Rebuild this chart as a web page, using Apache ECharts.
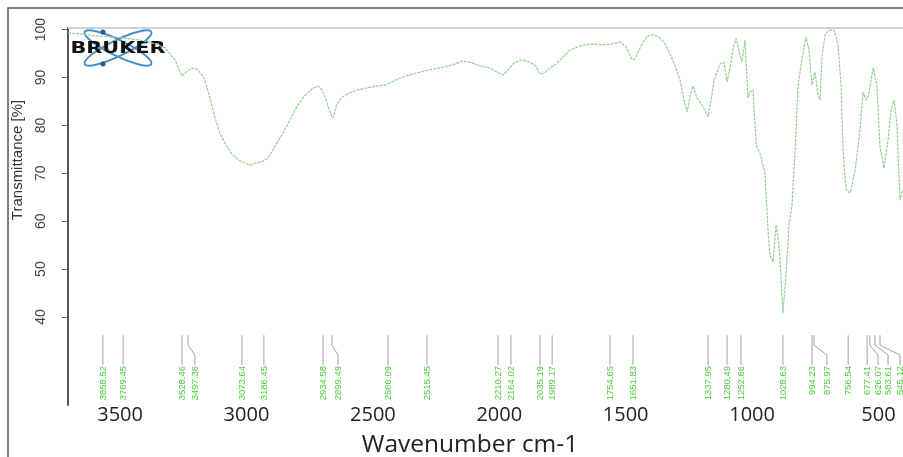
<!DOCTYPE html>
<html><head><meta charset="utf-8">
<script src="https://cdn.jsdelivr.net/npm/echarts@6/dist/echarts.min.js"></script>
<style>html,body{margin:0;padding:0;background:#fff}#c{width:903px;height:457px}</style>
</head><body><div id="c"></div>
<script>
// Spectrum (wavenumber cm-1, transmittance %)
const wavenumbers = [3706,3659,3599,3540,3480,3421,3374,3322,3283,3255,
3239,3215,3192,3168,3144,3124,3105,3081,3057,3033,
3010,2986,2962,2939,2915,2891,2867,2836,2804,2772,
2741,2717,2701,2685,2670,2658,2642,2622,2590,2559,
2527,2488,2452,2424,2393,2345,2294,2234,2187,2147,
2116,2076,2037,2009,1985,1965,1942,1910,1878,1855,
1839,1819,1799,1775,1748,1720,1680,1633,1590,1554,
1522,1499,1479,1467,1451,1431,1412,1388,1364,1344,
1324,1305,1285,1269,1257,1245,1234,1218,1198,1174,
1162,1150,1127,1111,1099,1087,1075,1063,1048,1040,
1028,1016,1008,996,984,969,949,937,929,917,
905,897,889,878,866,854,842,830,818,802,
787,775,763,751,739,731,723,711,696,676,
660,648,640,628,612,593,573,561,549,541,
521,506,494,478,462,450,438,427,415,403];
const transmittance = [99.3,99.1,98.7,98.5,98.2,97.8,97.2,96.2,93.7,90.3,
91.1,92.0,91.6,89.9,85.7,81.5,78.4,75.9,74.0,72.8,
72.2,71.7,72.2,72.4,73.2,75.3,77.4,80.3,83.6,86.1,
87.6,88.2,87.4,85.3,82.8,81.5,84.5,85.9,86.8,87.4,
87.8,88.2,88.4,89.1,89.9,90.7,91.4,92.0,92.6,93.4,
93.2,92.4,92.0,91.1,90.5,91.6,93.0,93.7,93.2,92.4,
90.7,91.1,92.0,92.8,94.3,95.7,96.6,97.0,96.8,97.0,
97.4,96.4,94.1,93.7,95.3,97.4,98.7,98.9,98.2,97.0,
94.9,92.4,89.5,85.3,82.8,86.1,88.2,85.7,84.3,81.8,
85.3,89.5,92.8,93.2,89.1,92.0,96.2,98.2,94.6,93.2,
97.8,85.7,87.0,87.4,75.9,74.2,70.1,58.2,52.9,51.5,
59.2,56.5,51.5,40.8,48.8,59.2,63.4,74.9,88.4,94.1,
98.5,95.7,88.4,91.1,86.3,85.3,94.7,98.9,99.9,99.9,
96.8,88.4,74.9,66.5,65.9,70.3,79.0,87.0,85.3,85.9,
92.0,88.0,75.5,71.1,77.0,83.2,85.3,80.1,64.4,66.5];

const xTicks = [3500,3000,2500,2000,1500,1000,500];
const yTicks = [40,50,60,70,80,90,100];

// Peak annotations: text, x where the marker line starts, x where the label sits
const peakLabels = ["3858.52","3769.45","3528.46","3497.36","3073.64","3186.45","2934.58","2899.49","2566.09","2515.45","2210.27","2164.02","2035.19","1989.17","1754.65","1651.83","1337.95","1280.49","1252.66","1028.63","994.23","875.97","756.54","677.41","626.07","583.61","545.12"];
const peakTop    = [3568,3488,3255,3231,3018,2931,2697,2662,2440,2286,2005,1954,1839,1791,1562,1471,1174,1099,1044,878,763,755,620,545,534,514,494];
const peakBottom = [3568,3488,3255,3204,3018,2931,2697,2638,2440,2286,2005,1954,1839,1791,1562,1471,1174,1099,1044,878,763,704,620,545,502,462,415];

const X_MIN = 403, X_MAX = 3706, Y_MIN = 21.63, Y_MAX = 100.33;
const LINE_TOP = 36.2, LINE_BOTTOM = 30.0;

const spectrum = wavenumbers.map((w, i) => [w, transmittance[i]]);
const peaks = peakTop.map((t, i) => [t, peakBottom[i], LINE_BOTTOM]);

function renderPeak(params, api) {
  const xt = api.value(0), xb = api.value(1);
  const pt = api.coord([xt, LINE_TOP]);
  const pb = api.coord([xb, LINE_BOTTOM]);
  const y0 = pt[1], y3 = pb[1];
  let pts;
  if (Math.abs(pb[0] - pt[0]) < 0.5) {
    pts = [[pt[0], y0], [pt[0], y3]];
  } else {
    const y1 = y0 + (y3 - y0) / 3, y2 = y0 + 2 * (y3 - y0) / 3;
    pts = [[pt[0], y0], [pt[0], y1], [pb[0], y2], [pb[0], y3]];
  }
  return {
    type: 'group',
    children: [
      { type: 'polyline', shape: { points: pts }, style: { stroke: '#a0a0a0', lineWidth: 1, fill: null } },
      { type: 'text', x: pb[0], y: y3 + 1, rotation: Math.PI / 2,
        style: { text: peakLabels[params.dataIndex], fill: '#4ccf3c',
                 font: '9.5px "Liberation Sans"', align: 'right', verticalAlign: 'middle' } }
    ]
  };
}

const chart = echarts.init(document.getElementById('c'), null, { renderer: 'canvas' });
chart.setOption({
  animation: false,
  backgroundColor: '#ffffff',
  grid: { left: 68, right: 0, top: 28, bottom: 52 },
  xAxis: {
    type: 'value', min: X_MIN, max: X_MAX, inverse: true,
    axisLine: { show: false }, axisTick: { show: false }, splitLine: { show: false },
    axisLabel: { customValues: xTicks, margin: 0, fontSize: 20, fontFamily: 'Open Sans', color: '#222',
                 formatter: v => String(v) }
  },
  yAxis: {
    type: 'value', min: Y_MIN, max: Y_MAX,
    axisLine: { show: true, lineStyle: { color: '#555', width: 2 } },
    axisTick: { show: true, customValues: yTicks, length: 6, lineStyle: { color: '#666' } },
    splitLine: { show: false },
    axisLabel: { customValues: yTicks, rotate: 90, margin: 20, fontSize: 14,
                 fontFamily: 'Liberation Sans', color: '#444' }
  },
  series: [
    { type: 'line', data: spectrum, showSymbol: false, smooth: false,
      lineStyle: { color: '#93cf93', width: 1.2, type: [3, 1] }, z: 3 },
    { type: 'custom', data: peaks, renderItem: renderPeak, clip: false, silent: true,
      encode: { x: 0, y: 2 }, z: 2 }
  ],
  graphic: [
    { type: 'polyline', shape: { points: [[8, 457], [8, 8], [903, 8]] },
      style: { stroke: '#555', lineWidth: 1.5, fill: null }, z: 20 },
    { type: 'line', shape: { x1: 68, y1: 28, x2: 903, y2: 28 },
      style: { stroke: '#d0d0d0', lineWidth: 2 }, z: 1 },
    { type: 'text', x: 18, y: 160, rotation: Math.PI / 2,
      style: { text: 'Transmittance [%]', font: '15px "Liberation Sans"', fill: '#333',
               align: 'center', verticalAlign: 'middle' } },
    { type: 'text', x: 470, y: 445,
      style: { text: 'Wavenumber cm-1', font: '24.5px "Open Sans"', fill: '#222',
               align: 'center', verticalAlign: 'middle' } },
    { type: 'group', x: 118, y: 48, z: 30, children: [
      { type: 'ellipse', shape: { cx: 0, cy: 0, rx: 37, ry: 8 }, rotation: 0.45,
        style: { fill: null, stroke: '#4a90c8', lineWidth: 2 } },
      { type: 'ellipse', shape: { cx: 0, cy: 0, rx: 37, ry: 8 }, rotation: -0.45,
        style: { fill: null, stroke: '#4a90c8', lineWidth: 2 } },
      { type: 'circle', shape: { cx: -15, cy: -16, r: 2.5 }, style: { fill: '#1d5f9c' } },
      { type: 'circle', shape: { cx: -15, cy: 16, r: 2.5 }, style: { fill: '#1d5f9c' } },
      { type: 'text', x: 0, y: 1, scaleX: 1.3,
        style: { text: 'BRUKER', font: 'bold 16px "DejaVu Sans"', fill: '#111',
                 align: 'center', verticalAlign: 'middle' } }
    ] }
  ]
});
</script>
</body></html>
